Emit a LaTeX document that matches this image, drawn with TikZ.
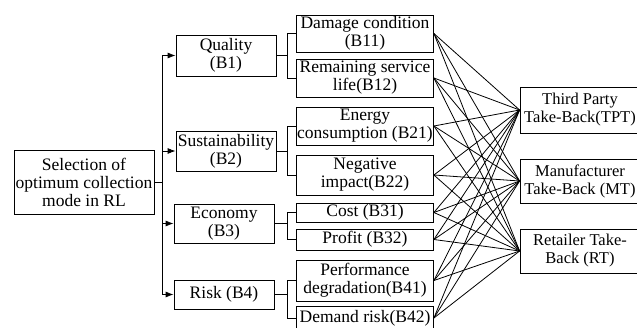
\documentclass[tikz,border=0pt]{standalone}
\usepackage{fontspec}
\setmainfont{Liberation Serif}
\usetikzlibrary{arrows.meta}

\begin{document}
\begin{tikzpicture}[x=1pt,y=-1pt,
	font=\fontsize{17.5}{18}\selectfont,
	box/.style={draw,align=center,inner sep=0pt,line width=0.8pt},
	crit/.style={box,minimum width=100pt},
	sub/.style={box,minimum width=137pt},
	alt/.style={box,minimum width=120pt,font=\fontsize{16.5}{18}\selectfont},
	link/.style={line width=0.8pt},
	arr/.style={link,-{Latex[length=8pt,width=6pt]}}]
	\useasboundingbox (0,0) rectangle (637,327);

	\node[box,minimum width=140pt,minimum height=64pt] (Goal) at (84,182) {Selection of\\optimum collection\\mode in RL};

	\node[crit,minimum height=41pt] (Quality) at (226,55.5) {Quality\\(B1)};
	\node[crit,minimum height=40pt] (Sustainability) at (226,151) {Sustainability\\(B2)};
	\node[crit,minimum height=39pt] (Economy) at (224,223.5) {Economy\\(B3)};
	\node[crit,minimum height=29pt] (Risk) at (224,294.5) {Risk (B4)};

	\node[sub,minimum height=37pt] (B11) at (365,33.5) {Damage condition\\(B11)};
	\node[sub,minimum height=38pt] (B12) at (365,78) {Remaining service\\life(B12)};
	\node[sub,minimum height=38pt] (B21) at (365,126) {Energy\\consumption (B21)};
	\node[sub,minimum height=40pt] (B22) at (365,175) {Negative\\impact(B22)};
	\node[sub,minimum height=19pt] (B31) at (365,212.5) {Cost (B31)};
	\node[sub,minimum height=21pt] (B32) at (365,239.5) {Profit (B32)};
	\node[sub,minimum height=41pt] (B41) at (365,280.5) {Performance\\degradation(B41)};
	\node[sub,minimum height=24pt] (B42) at (365,318) {Demand risk(B42)};

	\node[alt,minimum height=46pt] (TPT) at (580,110) {Third Party\\Take-Back(TPT)};
	\node[alt,minimum height=44pt] (MT) at (580,181) {Manufacturer\\Take-Back (MT)};
	\node[alt,minimum height=44pt] (RT) at (580,251) {Retailer Take-\\Back (RT)};

	% tree on the left
	\coordinate (spine) at (162.5,0);
	\coordinate (fork) at (287,0);
	\draw[link] (Goal.east) -- (Goal.east -| spine);
	\draw[arr] (Goal.east -| spine) |- (Quality.west);
	\draw[arr] (Goal.east -| spine) |- (Sustainability.west);
	\draw[arr] (Goal.east -| spine) |- (Economy.west);
	\draw[arr] (Goal.east -| spine) |- (Risk.west);

	\draw[link] (Quality.east) -- (Quality.east -| fork) |- (B11.west);
	\draw[link] (Quality.east -| fork) |- (B12.west);
	\draw[link] (Sustainability.east) -- (Sustainability.east -| fork) |- (B21.west);
	\draw[link] (Sustainability.east -| fork) |- (B22.west);
	\draw[link] (Economy.east) -- (Economy.east -| fork) |- (B31.west);
	\draw[link] (Economy.east -| fork) |- (B32.west);
	\draw[link] (Risk.east) -- (Risk.east -| fork) |- (B41.west);
	\draw[link] (Risk.east -| fork) |- (B42.west);

	% every sub-criterion to every alternative
	\foreach \s in {B11,B12,B21,B22,B31,B32,B41,B42}
		\foreach \a in {TPT,MT,RT}
			\draw[link] (\s.east) -- (\a.west);
\end{tikzpicture}
\end{document}
